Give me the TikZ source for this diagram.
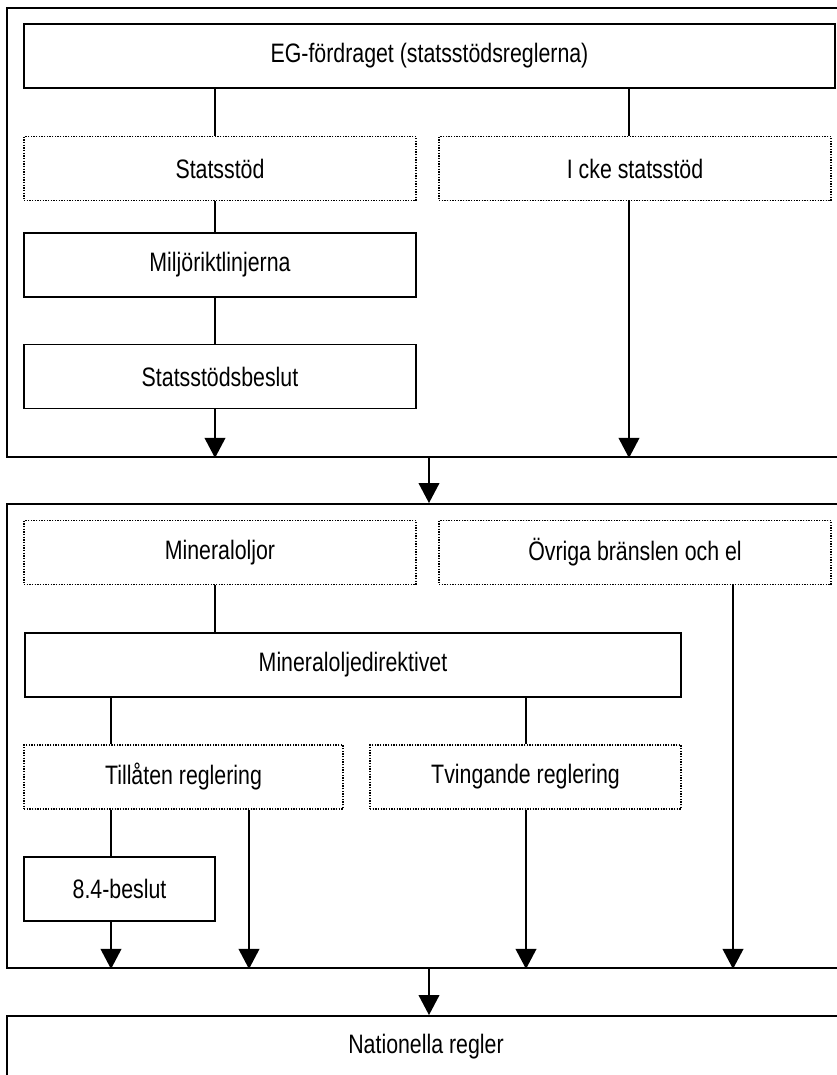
\documentclass[tikz,border=0pt]{standalone}
\usepackage{fontspec}
\setmainfont{Liberation Sans}[FakeStretch=0.8]
\usetikzlibrary{arrows.meta,positioning}

\begin{document}
\begin{tikzpicture}
		[x=0.75pt,y=-0.75pt,
		main box/.style={shape=rectangle,draw,line width=1.4pt,inner sep=0pt,minimum height=48pt,font=\fontsize{20}{24}\selectfont},
		dot box/.style={main box,line width=1.2pt,dash pattern=on 1pt off 1pt},
		outer box/.style={shape=rectangle,draw,line width=1.4pt,inner sep=0pt,minimum width=628.5pt},
		link/.style={line width=1.2pt},
		arrow link/.style={link,-{Triangle[length=15pt,width=15.5pt]}}]
		\path[use as bounding box,clip] (0,0) rectangle (837,1075);
		
		\node [outer box,minimum height=336.75pt] (A) at (426,232.5) {};
		\node [outer box,minimum height=348pt] (B) at (426,736) {};
		
		\node [main box,minimum width=608.25pt] (1) at (429.5,56) {EG-fördraget (statsstödsreglerna)};
		\node [dot box,minimum width=294pt] (2) at (220,168.5) {Statsstöd};
		\node [dot box,minimum width=294pt] (3) at (635,168.5) {I cke statsstöd};
		\node [main box,minimum width=294pt] (4) at (220,265) {Miljöriktlinjerna};
		\node [main box,minimum width=294pt] (5) at (220,376.5) {Statsstödsbeslut};
		
		\node [dot box,minimum width=294pt] (6) at (220,552.5) {Mineraloljor};
		\node [dot box,minimum width=294pt] (7) at (635,552.5) {Övriga bränslen och el};
		\node [main box,minimum width=492pt] (8) at (353,665) {Mineraloljedirektivet};
		\node [dot box,minimum width=239.25pt] (9) at (183.5,777) {Tillåten reglering};
		\node [dot box,minimum width=233.25pt] (10) at (525.5,777) {Tvingande reglering};
		\node [main box,minimum width=143.25pt] (11) at (119.5,889) {8.4-beslut};
		
		\node [main box,minimum width=628.5pt,minimum height=46.5pt] (12) at (426,1047) {Nationella regler};
		
		% columns of the connectors
		\coordinate (c1) at (111,0);
		\coordinate (c2) at (215,0);
		\coordinate (c3) at (249,0);
		\coordinate (c4) at (429,0);
		\coordinate (c5) at (526,0);
		\coordinate (c6) at (629,0);
		\coordinate (c7) at (733,0);
		
		\path[link]
		(1.south -| c2) edge (2.north -| c2)
		(2.south -| c2) edge (4.north -| c2)
		(4.south -| c2) edge (5.north -| c2)
		(5.south -| c2) edge[arrow link] (A.south -| c2)
		(1.south -| c6) edge (3.north -| c6)
		(3.south -| c6) edge[arrow link] (A.south -| c6)
		(A.south -| c4) edge[arrow link] (B.north -| c4)
		
		(6.south -| c2) edge (8.north -| c2)
		(7.south -| c7) edge[arrow link] (B.south -| c7)
		(8.south -| c1) edge (9.north -| c1)
		(8.south -| c5) edge (10.north -| c5)
		(9.south -| c1) edge (11.north -| c1)
		(11.south -| c1) edge[arrow link] (B.south -| c1)
		(9.south -| c3) edge[arrow link] (B.south -| c3)
		(10.south -| c5) edge[arrow link] (B.south -| c5)
		(B.south -| c4) edge[arrow link] (12.north -| c4)
		;
		
\end{tikzpicture}
\end{document}
